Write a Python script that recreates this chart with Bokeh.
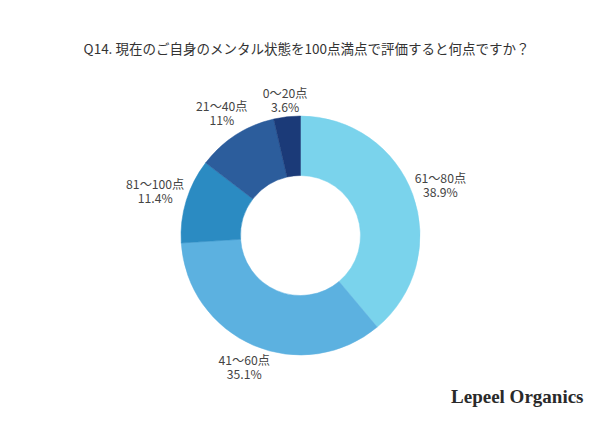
import numpy as np
from bokeh.plotting import figure
from bokeh.models import Range1d, ColumnDataSource
from bokeh.core.properties import value
from bokeh.embed import file_html
from bokeh.resources import INLINE

# ---- data ----
title_text = "Q14. 現在のご自身のメンタル状態を100点満点で評価すると何点ですか？"
categories = ["61〜80点", "41〜60点", "81〜100点", "21〜40点", "0〜20点"]
percents = [38.9, 35.1, 11.4, 11.0, 3.6]
pct_labels = ["38.9%", "35.1%", "11.4%", "11%", "3.6%"]
colors = ["#7ad3ec", "#5cb1e0", "#2b8bc2", "#2c5d9c", "#1b3a78"]
brand = "Lepeel Organics"

W, H = 584, 408
p = figure(width=W, height=H, output_backend="svg", toolbar_location=None,
           x_range=Range1d(0, W), y_range=Range1d(0, H), min_border=0)
p.axis.visible = False
p.grid.visible = False
p.outline_line_color = None
p.background_fill_color = "white"

cx, cy = 300, 173
r_in, r_out = 60, 119.5

vals = np.array(percents)
frac = vals / vals.sum()
ang = 2 * np.pi * frac
starts = np.pi / 2 - np.concatenate([[0], np.cumsum(ang)[:-1]])
ends = starts - ang
mids = (starts + ends) / 2

src = ColumnDataSource(dict(start=starts, end=ends, color=colors))
p.annular_wedge(x=cx, y=cy, inner_radius=r_in, outer_radius=r_out,
                start_angle="start", end_angle="end", direction="clock",
                fill_color="color", line_color="color", line_width=0.5, source=src)

fs = 12.2
def text_w(s):
    w = 0
    for ch in s:
        if ord(ch) > 255:
            w += fs
        elif ch == "%":
            w += 0.85 * fs
        elif ch == ".":
            w += 0.27 * fs
        else:
            w += 0.57 * fs
    return w

lx, ly = [], []
for cat, pl, m in zip(categories, pct_labels, mids):
    hw = max(text_w(cat), text_w(pl)) / 2
    hh = 14
    r = r_out + hw * abs(np.cos(m)) + hh * abs(np.sin(m))
    lx.append(cx + r * np.cos(m))
    ly.append(cy + r * np.sin(m))

lab = ColumnDataSource(dict(x=lx, y=ly, cat=categories, pct=pct_labels))
common = dict(text_font=value("Noto Sans CJK JP"), text_font_size=f"{fs}px",
              text_color="#444444", text_align="center", text_baseline="middle")
p.text(x="x", y="y", text="cat", y_offset=-7, source=lab, **common)
p.text(x="x", y="y", text="pct", y_offset=7, source=lab, **common)

p.text(x=[306], y=[361], text=[title_text], text_font=value("Noto Sans CJK JP"),
       text_font_size="13.5px", text_color="#333333", text_align="center",
       text_baseline="middle")

p.text(x=[583], y=[12], text=[brand], text_font=value("Liberation Serif"),
       text_font_size="19px", text_color="#2a2a2a", text_align="right",
       text_baseline="middle", text_font_style="bold")

open("out.html", "w").write(file_html(p, INLINE))
